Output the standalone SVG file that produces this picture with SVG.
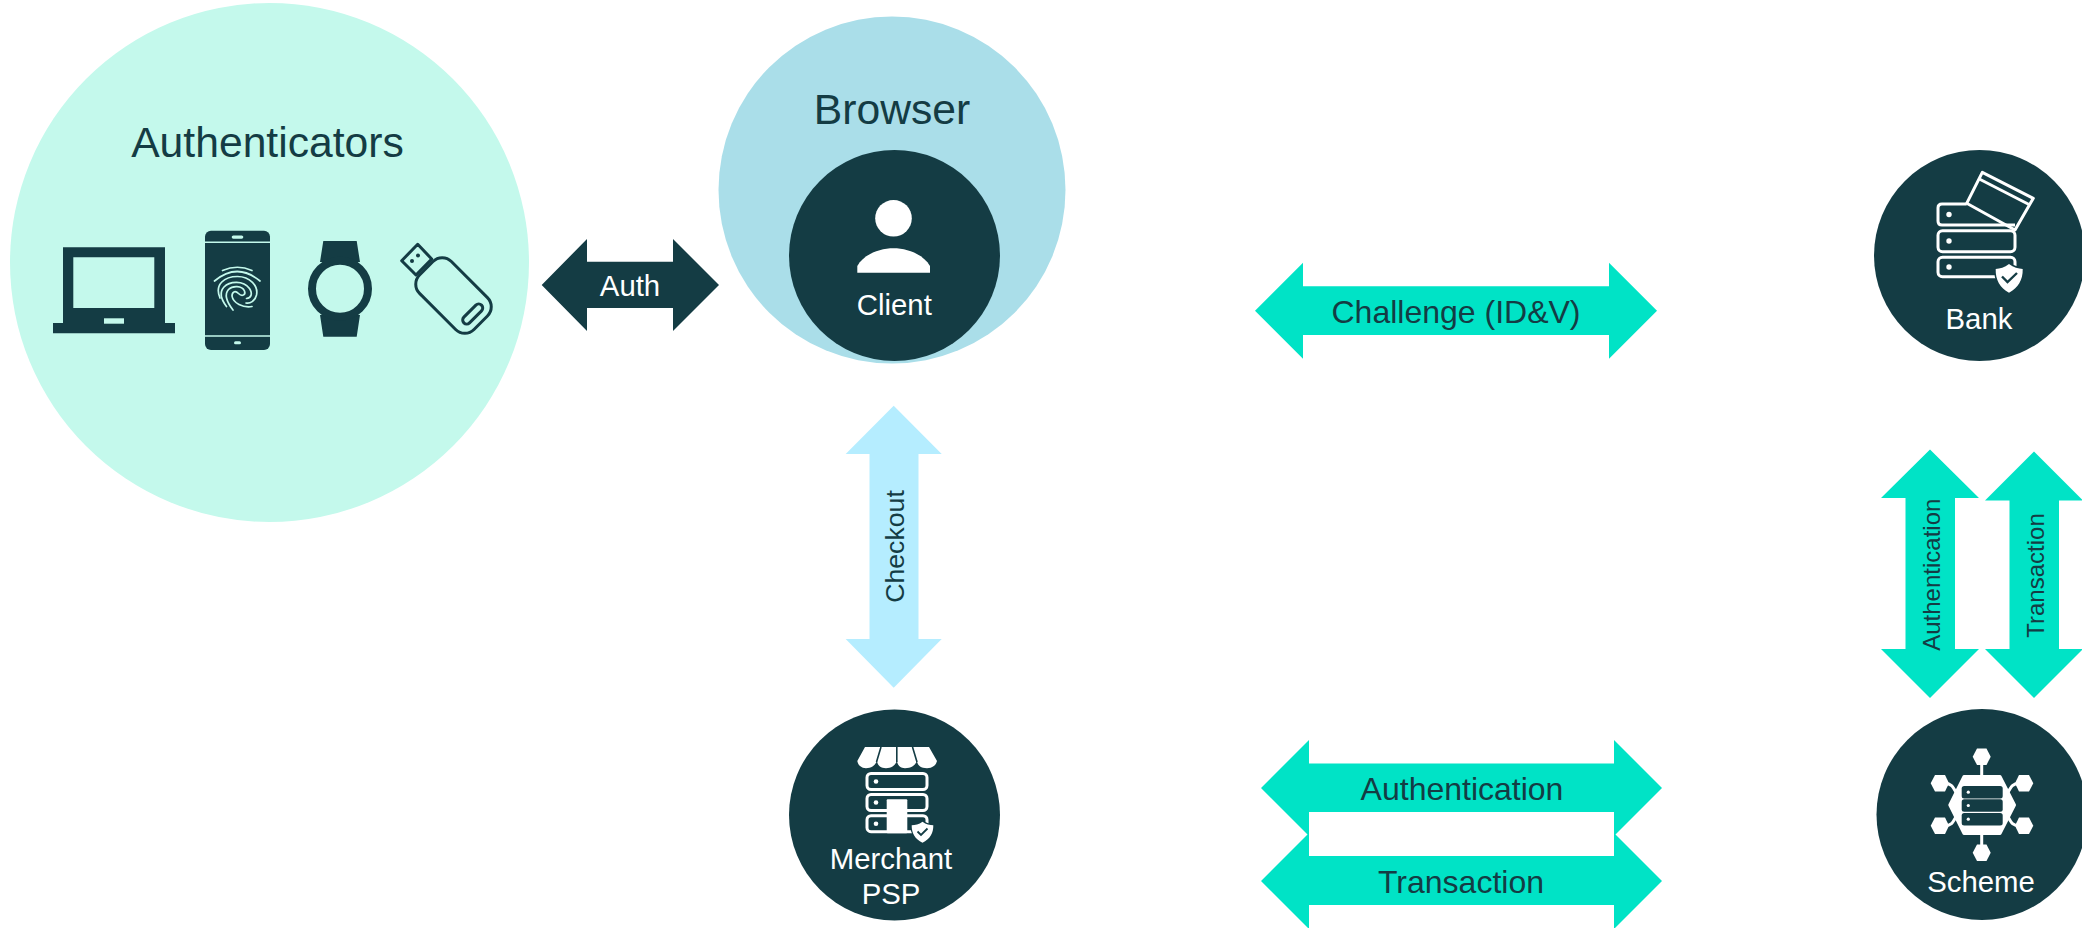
<svg xmlns="http://www.w3.org/2000/svg" width="2082" height="928" viewBox="0 0 2082 928">
<style>
text{font-family:"Liberation Sans",Arial,sans-serif;text-anchor:middle}
.d{fill:#143c44}
.w{fill:#fff}
.t28{font-size:29.33px}
.t24{font-size:24px}
.t32{font-size:32px}
.t42{font-size:42.67px}
.teal{fill:#00e3c6}
.srv{fill:none;stroke:#fff;stroke-width:3}
.line{fill:none;stroke:#fff;stroke-width:3;stroke-linecap:round}
.fp{fill:none;stroke:#c4f9ec;stroke-width:1.7;stroke-linecap:round}
.usb{fill:none;stroke:#143c44;stroke-width:3;stroke-linejoin:round}
</style>
<rect width="2082" height="928" fill="#fff"/>
<g id="authenticators">
<circle cx="269.5" cy="262.5" r="259.5" fill="#c4f9ec"/>
<text class="t42 d" x="267.5" y="157">Authenticators</text>
<g id="laptop">
<path class="d" fill-rule="evenodd" d="M63 247.3H165V323H175V333.3H53V323H63ZM73.3 257.3V308H154.3V257.3Z"/>
<rect x="104" y="318.3" width="20" height="5.4" fill="#c4f9ec"/>
</g>
<g id="phone">
<rect class="d" x="205" y="230.7" width="65" height="119.3" rx="6"/>
<path d="M205 242.3H270M205 336H270" stroke="#c4f9ec" stroke-width="1.6"/>
<rect x="231.7" y="235.5" width="11.6" height="3.2" rx="1.6" fill="#c4f9ec"/>
<rect x="234" y="341.2" width="7" height="3" rx="1.5" fill="#c4f9ec"/>
<path class="fp" d="M222.5 270.5Q237.5 264 252 270.5"/>
<path class="fp" d="M214.5 281Q237.3 262 260 281"/>
<path class="fp" d="M220 298C214 284 225 276.5 237.5 276.5C250 276.5 258.5 286 256.5 295C255 301 250 304 246 303"/>
<path class="fp" d="M226.5 306.5C220 298 219.5 292 224 287C229 281.5 243 279.5 249.5 288.5C253 294 251 298 246.5 298.5"/>
<path class="fp" d="M233 310C226 301 224.5 294 228.5 289.5C232.5 285.5 242 285.5 244.5 291C246 295 242 297 238.5 293.5C235 290 232 292 232 296C233 303 243 308 252 306.5"/>
</g>
<g id="watch">
<path class="d" d="M323.3 241H356.7L360 262H320ZM320 315H360L356.7 336.7H323.3Z"/>
<circle cx="340" cy="288.7" r="28" fill="#c4f9ec" stroke="#143c44" stroke-width="8"/>
</g>
<g id="usb">
<rect class="usb" x="-38.5" y="-22.5" width="77" height="45" rx="13" transform="translate(453.5 295.5) rotate(45)"/>
<path class="usb" d="M417.7 244.3L431.7 259L416 275L401.7 260.7Z" fill="#c4f9ec"/>
<circle class="d" cx="412" cy="261" r="2"/>
<circle class="d" cx="418" cy="255.5" r="2"/>
<rect class="usb" x="-12.5" y="-4" width="25" height="8" rx="4" transform="translate(472.7 314) rotate(-45)"/>
</g>
</g>
<g id="browser">
<circle cx="892" cy="190" r="173.5" fill="#aadee9"/>
<text class="t42 d" x="892" y="124">Browser</text>
</g>
<g id="client">
<circle class="d" cx="894.5" cy="255.5" r="105.5"/>
<circle class="w" cx="893.5" cy="218.3" r="18.3"/>
<path class="w" d="M857.3 272.7V266C864 254 880 248.3 893.5 248.3C907 248.3 923 254 930 266V272.7Z"/>
<text class="t28 w" x="894.3" y="315">Client</text>
</g>
<g id="merchant-psp">
<circle class="d" cx="894.5" cy="815" r="105.5"/>
<path class="w" d="M865 747H929L937 761C936 765 933 768 927 768.3C920 768 917 765 917 760C916 765 912 768 905 768.3C900 768 897 765 897 760C896 765 892 768 886 768.3C880 768 877 765 877 760C876 765 872 768 866 768.3C861 768 858 765 857.3 761Z"/>
<path d="M881 747L876.5 762M896.8 747V762M912.5 747L917 762" stroke="#143c44" stroke-width="1.6" fill="none"/>
<rect class="srv" x="867" y="773.5" width="60" height="16" rx="4"/>
<rect class="srv" x="867" y="794.5" width="60" height="16" rx="4"/>
<rect class="srv" x="867" y="815.7" width="60" height="16" rx="4"/>
<circle class="w" cx="876" cy="781.5" r="2.3"/>
<circle class="w" cx="876" cy="802.5" r="2.3"/>
<circle class="w" cx="876" cy="823.7" r="2.3"/>
<rect class="w" x="886.7" y="799.3" width="20.6" height="34" rx="1"/>
<path class="w" d="M922.5 821.7C926 824.5 930 825 933.3 825.2C933.5 833 930 839 922.5 842.7C915 839 911.5 833 911.7 825.2C915 825 919 824.5 922.5 821.7Z" stroke="#143c44" stroke-width="2.5" paint-order="stroke"/>
<path d="M917.5 831.5L921 835L927.5 828.5" fill="none" stroke="#143c44" stroke-width="1.8"/>
<text class="t28 w" x="891" y="869">Merchant</text>
<text class="t28 w" x="891" y="904">PSP</text>
</g>
<g id="bank">
<circle class="d" cx="1979.5" cy="255.5" r="105.5"/>
<path class="srv" d="M1966.7 204H1942C1939.5 204 1938 205.5 1938 208V221C1938 223.5 1939.5 225 1942 225H2015"/>
<rect class="srv" x="1938" y="230.7" width="77" height="21" rx="4.5"/>
<rect class="srv" x="1938" y="257.3" width="77" height="19.5" rx="4.5"/>
<path class="srv" stroke-linejoin="round" d="M1982.3 172.3L2033.3 198.3L2015 230L1966.7 203.3Z"/>
<path class="srv" d="M1979.3 179L2030 205"/>
<circle class="w" cx="1949" cy="214.5" r="2.7"/>
<circle class="w" cx="1949" cy="241" r="2.7"/>
<circle class="w" cx="1949" cy="267" r="2.7"/>
<path class="w" stroke="#143c44" stroke-width="3" paint-order="stroke" d="M2009 264C2013.5 267.5 2018.5 268.5 2022.7 269C2023 280 2018 288 2009 292.7C2000 288 1995.4 280 1995.7 269C2000 268.5 2004.5 267.5 2009 264Z"/>
<path d="M2002 276.5L2007.5 282L2017 273" fill="none" stroke="#143c44" stroke-width="2.4"/>
<text class="t28 w" x="1979" y="329">Bank</text>
</g>
<g id="scheme">
<circle class="d" cx="1982" cy="814.5" r="105.5"/>
<path class="line" d="M1981.7 756V852M1945 783.5C1952 783.5 1953 787 1957 794M2019 783.5C2012 783.5 2011 787 2007 794M1945 825.7C1952 825.7 1953 822 1957 815M2019 825.7C2012 825.7 2011 822 2007 815"/>
<path class="w" stroke="#fff" stroke-width="3" stroke-linejoin="round" d="M1964 776.5H2000L2014.5 805L2000 833.5H1964L1949.8 805Z"/>
<rect class="d" x="1961.7" y="786" width="41" height="12.4" rx="2.5"/>
<rect class="d" x="1961.7" y="799.3" width="41" height="12.4" rx="2.5"/>
<rect class="d" x="1961.7" y="813" width="41" height="12.4" rx="2.5"/>
<circle class="w" cx="1968.3" cy="792.2" r="1.6"/>
<circle class="w" cx="1968.3" cy="805.5" r="1.6"/>
<circle class="w" cx="1968.3" cy="819.2" r="1.6"/>
<g class="w">
<path d="M1977 748.5H1986.5L1990.7 756.7L1986.5 765H1977L1972.7 756.7Z"/>
<path d="M1977 844.5H1986.5L1990.7 852.7L1986.5 861H1977L1972.7 852.7Z"/>
<path d="M1935 775H1945L1949 783.3L1945 791.5H1935L1930.7 783.3Z"/>
<path d="M1935 817.5H1945L1949 825.7L1945 834H1935L1930.7 825.7Z"/>
<path d="M2019 775H2029L2033.3 783.3L2029 791.5H2019L2015 783.3Z"/>
<path d="M2019 817.5H2029L2033.3 825.7L2029 834H2019L2015 825.7Z"/>
</g>
<text class="t28 w" x="1981" y="892">Scheme</text>
</g>
<g id="connectors">
<g id="conn-auth">
<path class="d" d="M541.7 285L587 239V261.7H673V239L719 285L673 331V308H587V331Z"/>
<text class="t28 w" x="630" y="295.7">Auth</text>
</g>
<g id="conn-checkout">
<path fill="#b5edff" d="M893.7 405.7L941.7 454H918.5V639H941.7L893.7 687.7L845.7 639H869.5V454H845.7Z"/>
<text class="d" font-size="26.67" transform="translate(903.5 546.5) rotate(-90)">Checkout</text>
</g>
<g id="conn-challenge">
<path class="teal" d="M1255 310.7L1303 262.7V286.3H1609V262.7L1657 310.7L1609 358.7V335H1303V358.7Z"/>
<text class="t32 d" x="1456" y="323">Challenge (ID&amp;V)</text>
</g>
<g id="conn-authentication-h">
<path class="teal" d="M1261 788L1309 740V763.5H1614V740L1662 788L1614 836V812H1309V836Z"/>
<text class="t32 d" x="1462" y="800.3">Authentication</text>
</g>
<g id="conn-transaction-h">
<path class="teal" d="M1261 881L1309 833V856H1614V833L1662 881L1614 929V905H1309V929Z"/>
<text class="t32 d" x="1461" y="893">Transaction</text>
</g>
<g id="conn-authentication-v">
<path class="teal" d="M1930 449.5L1979 498H1955V649H1979L1930 698L1881 649H1905.5V498H1881Z"/>
<text class="t24 d" transform="translate(1939.5 574.7) rotate(-90)">Authentication</text>
</g>
<g id="conn-transaction-v">
<path class="teal" d="M2034 451.5L2083 500.5H2059V649H2083L2034 698L1985 649H2009.5V500.5H1985Z"/>
<text class="t24 d" transform="translate(2043.5 575.5) rotate(-90)">Transaction</text>
</g>
</g>
</svg>
